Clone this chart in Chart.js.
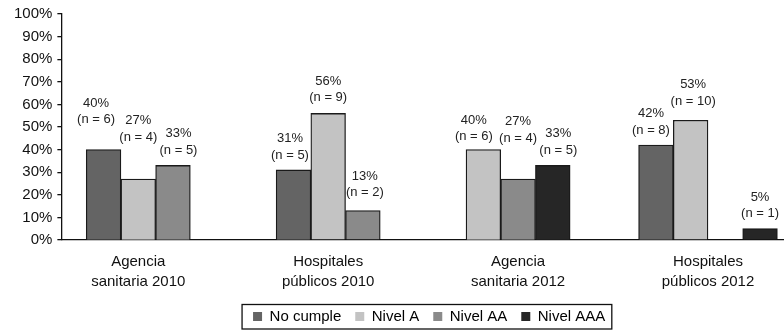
<!DOCTYPE html>
<html>
<head>
<meta charset="utf-8">
<script src="https://cdn.jsdelivr.net/npm/chart.js@4/dist/chart.umd.min.js"></script>
<style>
  html, body { margin: 0; padding: 0; background: #fff; }
  #wrap { width: 784px; height: 331px; }
</style>
</head>
<body>
<div id="wrap"><canvas id="chart"></canvas></div>
<script>
  // group labels (two lines each)
  const categories = [
    ['Agencia', 'sanitaria 2010'],
    ['Hospitales', 'públicos 2010'],
    ['Agencia', 'sanitaria 2012'],
    ['Hospitales', 'públicos 2012']
  ];
  const seriesNames = ['No cumple', 'Nivel A', 'Nivel AA', 'Nivel AAA'];

  // percentages per series (null = no bar at all)
  const noCumplePct = [40, 31, null, 42];
  const nivelAPct = [27, 56, 40, 53];
  const nivelAAPct = [33, 13, 27, 0];
  const nivelAAAPct = [null, null, 33, 5];

  // counts shown under each percentage
  const noCumpleN = [6, 5, null, 8];
  const nivelAN = [4, 9, 6, 10];
  const nivelAAN = [5, 2, 4, null];
  const nivelAAAN = [null, null, 5, 1];

  const yTicks = [0, 10, 20, 30, 40, 50, 60, 70, 80, 90, 100];

  const pcts = [noCumplePct, nivelAPct, nivelAAPct, nivelAAAPct];
  const counts = [noCumpleN, nivelAN, nivelAAN, nivelAAAN];
  const fills = ['#646464', '#c3c3c3', '#8a8a8a', '#262626'];

  // small hand nudges for the value labels [dx, extra lift]
  const labelNudge = [
    [[-7.5, 15], [-3.5, 0], null, [-5, 0]],
    [[0, 27], [0, 1], [-9.5, -2], [2.5, 4]],
    [[5.5, 0], [2, 3], [0, 26], null],
    [null, null, [5.5, 0], [0, 0]]
  ];

  const FONT = "'Liberation Sans', Arial, Helvetica, sans-serif";
  const LEGEND_SHIFT = 7;

  const valueLabels = {
    id: 'valueLabels',
    afterDatasetsDraw(chart) {
      const ctx = chart.ctx;
      ctx.save();
      ctx.fillStyle = '#222';
      ctx.font = '13px ' + FONT;
      ctx.textAlign = 'center';
      ctx.textBaseline = 'middle';
      chart.data.datasets.forEach((ds, i) => {
        const meta = chart.getDatasetMeta(i);
        meta.data.forEach((bar, j) => {
          const n = counts[i][j];
          if (n === null || !pcts[i][j]) return;
          const nudge = labelNudge[i][j] || [0, 0];
          const x = bar.x + nudge[0];
          const y = bar.y - 15 - nudge[1];
          ctx.fillText('(n = ' + n + ')', x, y);
          ctx.fillText(pcts[i][j] + '%', x, y - 16.5);
        });
      });
      ctx.restore();
    }
  };

  // framed legend, nudged a little to the right like the original
  const legendFrame = {
    id: 'legendFrame',
    afterUpdate(chart) {
      const lg = chart.legend;
      if (!lg) return;
      lg.left += LEGEND_SHIFT;
      lg.right += LEGEND_SHIFT;
      lg.legendHitBoxes.forEach(b => { b.left += LEGEND_SHIFT; });
    },
    afterDraw(chart) {
      const boxes = chart.legend && chart.legend.legendHitBoxes;
      if (!boxes || !boxes.length) return;
      const first = boxes[0];
      const last = boxes[boxes.length - 1];
      const cy = first.top + first.height / 2;
      const ctx = chart.ctx;
      ctx.save();
      ctx.strokeStyle = '#111';
      ctx.lineWidth = 1.3;
      const x0 = first.left - 11;
      const x1 = last.left + last.width + 6.5;
      ctx.strokeRect(x0, cy - 12, x1 - x0, 24.5);
      ctx.restore();
    }
  };

  new Chart(document.getElementById('chart'), {
    type: 'bar',
    data: {
      datasets: seriesNames.map((name, i) => ({
        label: name,
        data: pcts[i].map((v, j) => ({ x: j, y: v })),
        backgroundColor: fills[i],
        borderColor: '#1a1a1a',
        borderWidth: 1.3,
        barThickness: 34.7,
        skipNull: true
      }))
    },
    options: {
      responsive: true,
      maintainAspectRatio: false,
      animation: false,
      layout: { padding: { left: 9, right: 1, top: 14, bottom: -3 } },
      plugins: {
        tooltip: { enabled: false },
        legend: {
          position: 'bottom',
          fullSize: false,
          labels: {
            color: '#111',
            font: { family: FONT, size: 15 },
            boxWidth: 9,
            boxHeight: 9,
            padding: 14,
            generateLabels(chart) {
              return chart.data.datasets.map((ds, i) => ({
                text: ds.label,
                fillStyle: fills[i],
                strokeStyle: fills[i],
                lineWidth: 0,
                hidden: false,
                datasetIndex: i
              }));
            }
          }
        }
      },
      scales: {
        x: {
          type: 'linear',
          min: -0.405,
          max: 3.395,
          offset: false,
          grid: { display: false, drawTicks: false, offset: false },
          border: { color: '#111', width: 1.3 },
          afterBuildTicks(scale) {
            scale.ticks = categories.map((c, i) => ({ value: i }));
          },
          afterFit(scale) {
            scale.height = 55;
          },
          ticks: {
            autoSkip: false,
            maxRotation: 0,
            padding: 12,
            color: '#111',
            font: { family: FONT, size: 15, lineHeight: 1.33 },
            callback: v => categories[v]
          }
        },
        y: {
          min: 0,
          max: 100,
          afterBuildTicks(scale) {
            scale.ticks = yTicks.map(v => ({ value: v }));
          },
          grid: { drawOnChartArea: false, drawTicks: true, tickLength: 4, color: '#111', lineWidth: 1.3 },
          border: { color: '#111', width: 1.3 },
          ticks: {
            padding: 5,
            color: '#111',
            font: { family: FONT, size: 15 },
            callback: v => v + '%'
          }
        }
      }
    },
    plugins: [valueLabels, legendFrame]
  });
</script>
</body>
</html>
